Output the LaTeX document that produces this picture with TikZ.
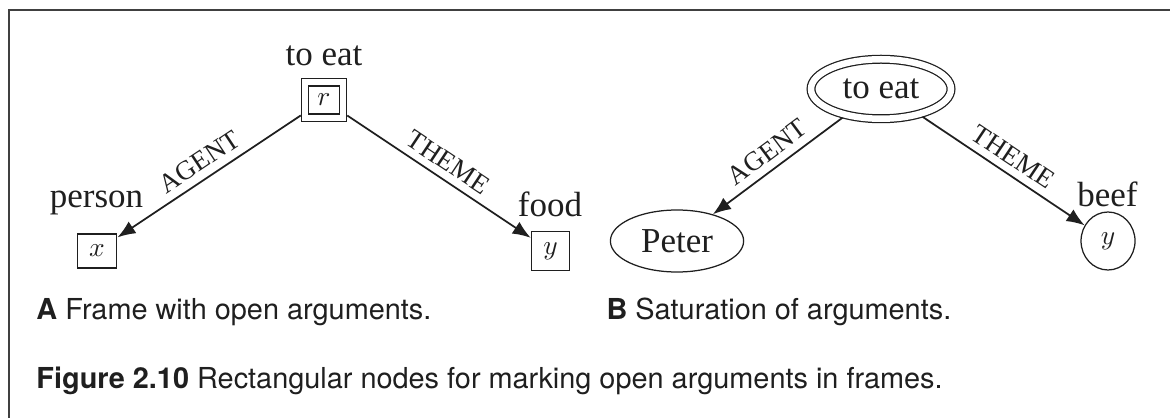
\documentclass[tikz,border=0pt]{standalone}
\usepackage{fontspec}
\newfontfamily\serifface{Liberation Serif}
\newfontfamily\capface{TeX Gyre Heros}
\usetikzlibrary{arrows.meta,shapes.geometric}
\definecolor{ink}{gray}{0.12}
\begin{document}
\begin{tikzpicture}[x=0.4pt,y=-0.4pt,
  every node/.style={text=ink},
  word/.style={font=\serifface\fontsize{14}{16}\selectfont, inner sep=0pt, anchor=base},
  role/.style={font=\serifface\fontsize{10.8}{12}\selectfont, sloped, above, midway, inner sep=3pt},
  openbox/.style={draw=ink, line width=0.5pt, font=\fontsize{11}{13}\selectfont,
    inner xsep=4.8pt, inner ysep=4.4pt},
  framebox/.style={draw=ink, line width=0.5pt, double, double distance=2.4pt,
    font=\fontsize{11}{13}\selectfont, inner xsep=4.98pt, inner ysep=4.69pt, outer sep=1.7pt},
  oval/.style={draw=ink, line width=0.5pt, ellipse, inner sep=0pt,
    font=\serifface\fontsize{14}{16}\selectfont},
  framedoval/.style={oval, double, double distance=2.6pt, outer sep=1.55pt},
  link/.style={draw=ink, line width=0.7pt, -{Latex[length=7.2pt,width=5.6pt]}},
  capt/.style={font=\capface\fontsize{11.55}{14}\selectfont, inner sep=0pt, anchor=base west},
  border/.style={draw=black!75, line width=0.6pt}
]
\useasboundingbox (0,0) rectangle (1170,418);

% outer frame (top and left rules)
\coordinate (fbl) at (9,418);
\coordinate (ftl) at (9,10);
\coordinate (ftr) at (1170,10);
\draw[border] (fbl) -- (ftl) -- (ftr);

% ---- panel A: frame with open arguments ----
\node[framebox] (r) at (324,100) {$r$};
\node[openbox] (x) at (97,251) {$x$};
\node[openbox] (y) at (550.5,251) {$y$};
\node[word] (eatA) at (324,66) {to eat};
\node[word] (person) at (96.5,208) {person};
\node[word] (food) at (550,217) {food};
\draw[link] (r) -- node[role] {AGENT} (x);
\draw[link] (r) -- node[role] {THEME} (y);

% ---- panel B: saturation of arguments ----
\node[framedoval, minimum width=56pt, minimum height=23.8pt] (eatB) at (881,89) {to eat};
\node[oval, minimum width=53.3pt, minimum height=24.8pt] (peter) at (677,241) {Peter};
\node[oval, minimum width=21.6pt, minimum height=23.2pt,
  font=\fontsize{11}{13}\selectfont] (yB) at (1108,241) {$y$};
\node[word] (beef) at (1107.5,207) {beef};
\draw[link] (eatB) -- node[role] {AGENT} (peter);
\draw[link] (eatB) -- node[role] {THEME} (yB);

% ---- captions ----
\node[capt] (capA) at (36,320) {\textbf{A} Frame with open arguments.};
\node[capt] (capB) at (606,320) {\textbf{B} Saturation of arguments.};
\node[capt] (capFig) at (36,388) {\textbf{Figure 2.10} Rectangular nodes for marking open arguments in frames.};
\end{tikzpicture}
\end{document}
